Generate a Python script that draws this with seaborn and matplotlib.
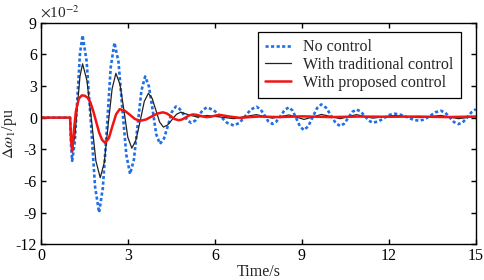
import numpy as np
import matplotlib
matplotlib.use("Agg")
import matplotlib.pyplot as plt
import seaborn as sns

sns.set_style("ticks")
plt.rcParams['font.family'] = ['Liberation Serif', 'DejaVu Serif']
plt.rcParams['mathtext.fontset'] = 'stix'
plt.rcParams['axes.unicode_minus'] = False

# values in units of 1e-2 pu
t_none = [0, 1.0, 1.03, 1.07, 1.16, 1.25, 1.34, 1.43, 1.57, 1.72, 1.86, 2.0,
          2.13, 2.27, 2.40, 2.53, 2.67, 2.80, 2.94, 3.07, 3.20, 3.33, 3.46, 3.59,
          3.72, 3.85, 3.97, 4.1, 4.24, 4.38, 4.51, 4.65, 4.78, 4.92, 5.05, 5.18,
          5.32, 5.45, 5.59, 5.72, 5.95, 6.19, 6.42, 6.65, 6.85, 7.04, 7.24, 7.43,
          7.57, 7.71, 7.84, 7.98, 8.12, 8.27, 8.41, 8.55, 8.68, 8.81, 8.94, 9.07,
          9.22, 9.37, 9.52, 9.67, 9.83, 10.0, 10.16, 10.32, 10.46, 10.6, 10.74, 10.88,
          11.02, 11.17, 11.31, 11.45, 11.64, 11.83, 12.01, 12.2, 12.41, 12.63, 12.84, 13.05,
          13.24, 13.43, 13.61, 13.8, 13.95, 14.1, 14.25, 14.4, 14.55, 14.7, 14.85, 15.0]
v_none = [0, 0, -2.5, -4.1, -2.36, 1.85, 6.06, 7.8, 5.34, -0.6, -6.54, -9.0,
          -6.64, -0.95, 4.74, 7.1, 5.28, 0.88, -3.53, -5.35, -4.0, -0.73, 2.55, 3.9,
          2.96, 0.7, -1.56, -2.5, -1.98, -0.73, 0.53, 1.05, 0.82, 0.28, -0.27, -0.5,
          -0.28, 0.24, 0.75, 0.97, 0.72, 0.11, -0.5, -0.75, -0.49, 0.14, 0.77, 1.03,
          0.79, 0.22, -0.36, -0.6, -0.37, 0.19, 0.74, 0.97, 0.66, -0.11, -0.87, -1.18,
          -0.82, 0.04, 0.89, 1.25, 0.95, 0.23, -0.5, -0.8, -0.57, -0.02, 0.54, 0.77,
          0.59, 0.15, -0.3, -0.48, -0.36, -0.06, 0.25, 0.37, 0.27, 0.04, -0.2, -0.3,
          -0.16, 0.18, 0.51, 0.65, 0.46, 0.02, -0.43, -0.62, -0.45, 0.0, 0.5, 0.8]

t_trad = [0, 1.0, 1.03, 1.07, 1.16, 1.25, 1.34, 1.43, 1.58, 1.74, 1.89, 2.04,
          2.18, 2.31, 2.45, 2.58, 2.72, 2.86, 2.99, 3.13, 3.27, 3.42, 3.56, 3.70,
          3.83, 3.96, 4.09, 4.22, 4.37, 4.52, 4.67, 4.82, 5.1, 5.4, 5.72, 6.2,
          6.65, 7.05, 7.43, 7.7, 7.98, 8.27, 8.55, 8.81, 9.07, 9.37, 9.67, 10.0,
          10.32, 10.6, 10.88, 11.17, 11.45, 11.83, 12.2, 12.63, 13.05, 13.43, 13.8, 14.1,
          14.4, 14.7, 15.0]
v_trad = [0, 0, -2.0, -3.0, -1.81, 1.05, 3.91, 5.1, 3.52, -0.3, -4.12, -5.7,
          -4.25, -0.75, 2.75, 4.2, 3.16, 0.65, -1.86, -2.9, -2.14, -0.3, 1.54, 2.3,
          1.83, 0.7, -0.43, -0.9, -0.69, -0.19, 0.31, 0.52, 0.25, 0.05, 0.2, 0.05,
          -0.1, 0.1, 0.28, 0.1, -0.05, 0.1, 0.25, 0.05, -0.17, 0.05, 0.3, 0.1,
          -0.1, 0.08, 0.28, 0.1, -0.05, 0.08, 0.2, 0.08, 0.0, 0.1, 0.2, 0.05,
          -0.1, 0.0, 0.1]

t_prop = [0, 1.0, 1.03, 1.07, 1.12, 1.2, 1.3, 1.4, 1.5, 1.6, 1.7, 1.8,
          1.9, 2.0, 2.1, 2.21, 2.34, 2.46, 2.59, 2.71, 2.89, 3.07, 3.24, 3.42,
          3.62, 3.81, 4.01, 4.2, 4.34, 4.48, 4.61, 4.75, 4.87, 5.0, 5.12, 5.24,
          5.36, 5.48, 5.6, 5.72, 5.84, 5.95, 6.07, 6.18, 6.5, 6.87, 7.2, 7.5,
          8.2, 9.0, 10.0, 11.0, 12.0, 13.0, 14.0, 15.0]
v_prop = [0, 0, -2.0, -3.2, -1.5, 0.6, 1.8, 2.1, 2.08, 1.9, 1.45, 0.6,
          -0.4, -1.4, -2.1, -2.4, -1.93, -0.8, 0.33, 0.8, 0.64, 0.25, -0.14, -0.3,
          -0.18, 0.1, 0.38, 0.5, 0.39, 0.13, -0.14, -0.25, -0.17, 0.03, 0.22, 0.3,
          0.26, 0.18, 0.09, 0.05, 0.08, 0.15, 0.22, 0.25, 0.1, -0.03, 0.05, 0.1,
          0.05, 0.12, 0.05, 0.1, 0.08, 0.1, 0.05, 0.1]

labels = ["No control", "With traditional control", "With proposed control"]
x_ticks = [0, 3, 6, 9, 12, 15]
y_ticks = [-12, -9, -6, -3, 0, 3, 6, 9]

fig = plt.figure(figsize=(4.84, 2.80), dpi=100)
ax = fig.add_axes([0.085, 0.128, 0.898, 0.791])

sns.lineplot(x=t_none, y=v_none, ax=ax, color='#1f6fe6', lw=1.9,
             linestyle=(0, (1.2, 0.9)), label=labels[0])
sns.lineplot(x=t_trad, y=v_trad, ax=ax, color='#222222', lw=0.9, label=labels[1])
sns.lineplot(x=t_prop, y=v_prop, ax=ax, color='#f01414', lw=1.8, label=labels[2])

ax.set_xlim(0, 15)
ax.set_ylim(-12, 9)
ax.set_xticks(x_ticks)
ax.set_yticks(y_ticks)
ax.tick_params(direction='in', top=True, right=True, length=3.5, width=1,
               labelsize=11.5, pad=3, colors='black')
for s in ax.spines.values():
    s.set_linewidth(1)
    s.set_color('black')

ax.set_xlabel("Time/s", fontsize=11.5, labelpad=0)
ax.set_ylabel(r"$\Delta\omega_1$/pu", fontsize=11.5)
ax.yaxis.set_label_coords(-0.05, 0.5)
fig.text(0.083, 0.955, r"$\times$10$^{-2}$", fontsize=11, va='center', ha='left')

leg = ax.legend(loc='upper right', bbox_to_anchor=(0.966, 0.957), fontsize=11.5,
                frameon=True, fancybox=False, edgecolor='black', framealpha=1,
                handlelength=1.6, handletextpad=0.8, labelspacing=0.1,
                borderpad=0.45, borderaxespad=0)
leg.get_frame().set_linewidth(0.9)

fig.savefig("out.png", dpi=100)
